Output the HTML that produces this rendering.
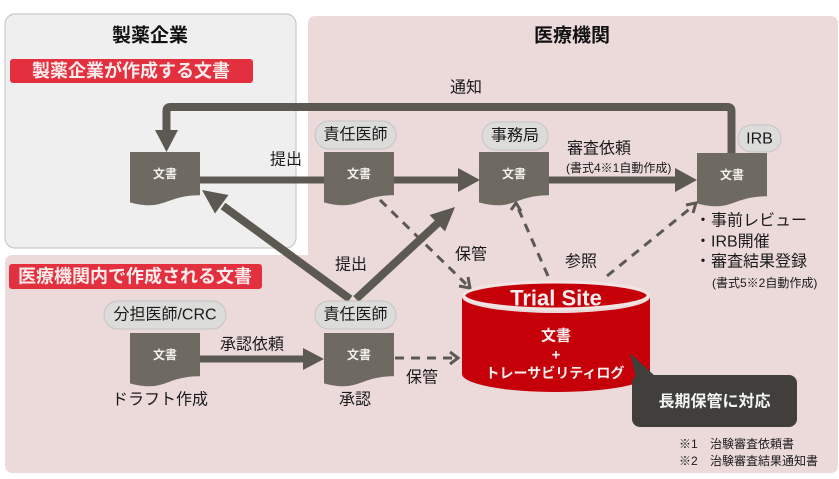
<!DOCTYPE html>
<html><head><meta charset="utf-8">
<style>
html,body{margin:0;padding:0;background:#fff;}
svg{display:block;font-family:"Liberation Sans","Noto Sans CJK JP",sans-serif;}
</style></head>
<body>
<svg width="839" height="479" viewBox="0 0 839 479" xmlns="http://www.w3.org/2000/svg">
<!-- backgrounds -->
<path d="M316,16 H830 Q838,16 838,24 V465 Q838,473 830,473 H13 Q5,473 5,465 V263 Q5,255 13,255 H308 V24 Q308,16 316,16 Z" fill="#ecdadb"/>
<rect x="5" y="14" width="291" height="234" rx="10" fill="#efefef" stroke="#c9c9c9" stroke-width="1.2"/>

<!-- titles -->
<text x="150" y="36" font-size="19" font-weight="bold" text-anchor="middle" dominant-baseline="central" fill="#111">製薬企業</text>
<text x="572" y="36" font-size="19" font-weight="bold" text-anchor="middle" dominant-baseline="central" fill="#111">医療機関</text>

<!-- red labels -->
<rect x="10" y="59" width="243" height="24" rx="3" fill="#e3303e"/>
<text x="131" y="71" font-size="18" font-weight="bold" text-anchor="middle" dominant-baseline="central" fill="#fbecec">製薬企業が作成する文書</text>
<rect x="9" y="264" width="253" height="25" rx="3" fill="#e3303e"/>
<text x="135" y="276.5" font-size="18" font-weight="bold" text-anchor="middle" dominant-baseline="central" fill="#fbecec">医療機関内で作成される文書</text>

<!-- solid arrows -->
<g fill="#5c5952" stroke="none">
  <path d="M731.5,154 V111 Q731.5,107 727.5,107 H170.5 Q166.5,107 166.5,111 V132" fill="none" stroke="#5c5952" stroke-width="8"/>
  <polygon points="155,130 178,130 166.5,152"/>
  <line x1="200" y1="180" x2="460" y2="180" stroke="#5c5952" stroke-width="7"/>
  <polygon points="458,168 458,192 480,180"/>
  <line x1="549" y1="180" x2="677" y2="180" stroke="#5c5952" stroke-width="7"/>
  <polygon points="675,168 675,192 697,180"/>
  <line x1="200" y1="359" x2="305" y2="359" stroke="#5c5952" stroke-width="7"/>
  <polygon points="303,348 303,370 324,359"/>
  <line x1="350" y1="299" x2="223" y2="206" stroke="#5c5952" stroke-width="8"/>
  <polygon points="202,190 228.5,195 215,213.5"/>
  <line x1="356" y1="299" x2="439" y2="222" stroke="#5c5952" stroke-width="8"/>
  <polygon points="455,207 445,231.5 429.5,215"/>
</g>

<!-- dashed arrows -->
<g stroke="#5c5952" stroke-width="3" fill="none" stroke-dasharray="9 7">
  <line x1="380" y1="200" x2="466" y2="284"/>
  <line x1="548" y1="276" x2="518" y2="208"/>
  <line x1="607" y1="276" x2="692" y2="207"/>
  <line x1="395" y1="358" x2="454" y2="358"/>
</g>
<g stroke="#5c5952" stroke-width="3" fill="none" stroke-linejoin="miter">
  <polyline points="459,286 470,288 468,277"/>
  <polyline points="511,210 516,203 521,211"/>
  <polyline points="686,205 696,203 693,213"/>
  <polyline points="450,352 458,358 450,364"/>
</g>

<!-- documents -->
<g fill="#6e6a61">
  <path d="M130,152 H200 V195.3 C165,195.3 165,211.8 130,202.4 Z"/>
  <path d="M324,152 H394 V195.3 C359,195.3 359,211.8 324,202.4 Z"/>
  <path d="M479,152 H549 V195.3 C514,195.3 514,211.8 479,202.4 Z"/>
  <path d="M697,153 H767 V196.3 C732,196.3 732,212.8 697,203.4 Z"/>
  <path d="M130,333 H200 V376.3 C165,376.3 165,392.8 130,383.4 Z"/>
  <path d="M324,333 H394 V376.3 C359,376.3 359,392.8 324,383.4 Z"/>
</g>
<g font-size="12" fill="#f2f0ec" text-anchor="middle" dominant-baseline="central" font-weight="bold">
  <text x="165" y="174">文書</text>
  <text x="359" y="174">文書</text>
  <text x="514" y="174">文書</text>
  <text x="732" y="175">文書</text>
  <text x="165" y="355">文書</text>
  <text x="359" y="355">文書</text>
</g>

<!-- pills -->
<g fill="#dcdcda" stroke="#c4c4c2" stroke-width="1">
  <rect x="315" y="121" width="81" height="28" rx="14"/>
  <rect x="482" y="122" width="66" height="28" rx="14"/>
  <rect x="738" y="125" width="43" height="27" rx="13.5"/>
  <rect x="104" y="301" width="122" height="28" rx="14"/>
  <rect x="315" y="301" width="81" height="28" rx="14"/>
</g>
<g font-size="16" fill="#1a1a1a" text-anchor="middle" dominant-baseline="central">
  <text x="355.5" y="135">責任医師</text>
  <text x="515" y="136">事務局</text>
  <text x="759.5" y="139">IRB</text>
  <text x="165" y="315">分担医師/CRC</text>
  <text x="355.5" y="315">責任医師</text>
</g>

<!-- labels -->
<g font-size="16" fill="#1a1a1a" dominant-baseline="central">
  <text x="450" y="88">通知</text>
  <text x="270" y="160">提出</text>
  <text x="567" y="149">審査依頼</text>
  <text x="335" y="265">提出</text>
  <text x="455" y="255">保管</text>
  <text x="565" y="262">参照</text>
  <text x="406" y="378">保管</text>
  <text x="220" y="345">承認依頼</text>
  <text x="160" y="400" text-anchor="middle">ドラフト作成</text>
  <text x="355" y="400" text-anchor="middle">承認</text>
  <text x="695" y="221">・事前レビュー</text>
  <text x="695" y="242">・IRB開催</text>
  <text x="695" y="262">・審査結果登録</text>
</g>
<g font-size="12" fill="#1a1a1a" dominant-baseline="central">
  <text x="566" y="168">(書式4※1自動作成)</text>
  <text x="712" y="283">(書式5※2自動作成)</text>
  <text x="679" y="444">※1</text>
  <text x="710" y="444">治験審査依頼書</text>
  <text x="679" y="461">※2</text>
  <text x="710" y="461">治験審査結果通知書</text>
</g>

<!-- cylinder -->
<path d="M462,297 A94,16 0 0 0 650,297 V374 A94,18 0 0 1 462,374 Z" fill="#c60009"/>
<ellipse cx="556" cy="295.5" rx="92" ry="13.5" fill="#c60009" stroke="#f3e4e4" stroke-width="3"/>
<text x="556" y="298" font-size="22" font-weight="bold" fill="#f4eeee" text-anchor="middle" dominant-baseline="central">Trial Site</text>
<g fill="#f6f0f0" font-weight="bold" text-anchor="middle" dominant-baseline="central">
  <text x="556" y="336" font-size="15">文書</text>
  <text x="556" y="355" font-size="15">+</text>
  <text x="555" y="373" font-size="14">トレーサビリティログ</text>
</g>

<!-- callout -->
<polygon points="630,353 656,377 637,381" fill="#403f3c"/>
<rect x="632" y="375" width="165" height="52" rx="8" fill="#403f3c"/>
<text x="714.5" y="402" font-size="16" font-weight="bold" fill="#f4f4f4" text-anchor="middle" dominant-baseline="central">長期保管に対応</text>
</svg>
</body></html>
